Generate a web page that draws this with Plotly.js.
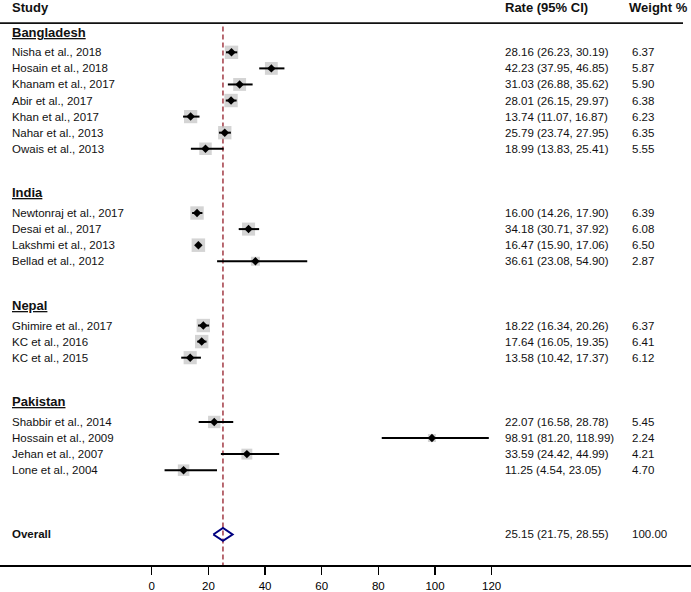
<!DOCTYPE html>
<html>
<head>
<meta charset="utf-8">
<script src="https://cdn.plot.ly/plotly-3.0.1.min.js"></script>
<style>html,body{margin:0;padding:0;background:#fff;}#chart{width:691px;height:592px;}</style>
</head>
<body>
<div id="chart"></div>
<script>
// ---- data ----
const groups = ['Bangladesh', 'India', 'Nepal', 'Pakistan'];
const studies = ['Nisha et al., 2018','Hosain et al., 2018','Khanam et al., 2017','Abir et al., 2017','Khan et al., 2017','Nahar et al., 2013','Owais et al., 2013',
  'Newtonraj et al., 2017','Desai et al., 2017','Lakshmi et al., 2013','Bellad et al., 2012',
  'Ghimire et al., 2017','KC et al., 2016','KC et al., 2015',
  'Shabbir et al., 2014','Hossain et al., 2009','Jehan et al., 2007','Lone et al., 2004'];
const studyGroup = ['Bangladesh','Bangladesh','Bangladesh','Bangladesh','Bangladesh','Bangladesh','Bangladesh',
  'India','India','India','India','Nepal','Nepal','Nepal','Pakistan','Pakistan','Pakistan','Pakistan'];
const rate = [28.16,42.23,31.03,28.01,13.74,25.79,18.99, 16.00,34.18,16.47,36.61, 18.22,17.64,13.58, 22.07,98.91,33.59,11.25];
const ciLow = [26.23,37.95,26.88,26.15,11.07,23.74,13.83, 14.26,30.71,15.90,23.08, 16.34,16.05,10.42, 16.58,81.20,24.42,4.54];
const ciHigh = [30.19,46.85,35.62,29.97,16.87,27.95,25.41, 17.90,37.92,17.06,54.90, 20.26,19.35,17.37, 28.78,118.99,44.99,23.05];
const weight = [6.37,5.87,5.90,6.38,6.23,6.35,5.55, 6.39,6.08,6.50,2.87, 6.37,6.41,6.12, 5.45,2.24,4.21,4.70];
const overallLabel = 'Overall';
const overallRate = 25.15, overallLow = 21.75, overallHigh = 28.55, overallWeight = 100.00;
const xTicks = [0, 20, 40, 60, 80, 100, 120];
const headers = ['Study', 'Rate (95% CI)', 'Weight %'];

// ---- layout of rows ----
const FONT = 'Liberation Sans, Arial, Helvetica, sans-serif';
const rows = [];
const groupRows = [];
let r = 0;
groups.forEach((g, gi) => {
  if (gi > 0) r += 3;
  groupRows.push(r - 1.25);
  studyGroup.forEach((sg, i) => { if (sg === g) { rows[i] = r; r += 1; } });
});
const overallRow = r - 1 + 4;

const fmt = v => v.toFixed(2);
const ann = [];
const xStudy = 10/691, xRate = 503/691, xWeight = 630/691, xWeightHead = 627/691;
const headerRow = -2.8;
ann.push({x: xStudy, y: headerRow, text: '<b>' + headers[0] + '</b>', font: {size: 13}});
ann.push({x: xRate, y: headerRow, text: '<b>' + headers[1] + '</b>', font: {size: 13}});
ann.push({x: xWeightHead, y: headerRow, text: '<b>' + headers[2] + '</b>', font: {size: 13}});
groups.forEach((g, gi) => ann.push({x: xStudy, y: groupRows[gi], text: '<b><u>' + g + '</u></b>', font: {size: 13}}));
studies.forEach((s, i) => {
  ann.push({x: xStudy, y: rows[i], text: s});
  ann.push({x: xRate, y: rows[i], text: fmt(rate[i]) + ' (' + fmt(ciLow[i]) + ', ' + fmt(ciHigh[i]) + ')'});
  ann.push({x: xWeight, y: rows[i], text: fmt(weight[i])});
});
ann.push({x: xStudy, y: overallRow, text: '<b>' + overallLabel + '</b>'});
ann.push({x: xRate, y: overallRow, text: fmt(overallRate) + ' (' + fmt(overallLow) + ', ' + fmt(overallHigh) + ')'});
ann.push({x: xWeight, y: overallRow, text: fmt(overallWeight)});
const annotations = ann.map(a => Object.assign({xref: 'paper', yref: 'y', xanchor: 'left', yanchor: 'middle', showarrow: false}, a,
  {font: Object.assign({family: FONT, size: 11.5, color: '#111'}, a.font || {})}));

// ---- traces ----
const squares = {
  type: 'scatter', mode: 'markers', x: rate, y: rows,
  marker: {symbol: 'square', size: weight.map(w => 5.3 * Math.sqrt(w)), color: '#c2c2c2', line: {width: 0}},
  hoverinfo: 'skip'
};
const ciX = [], ciY = [];
studies.forEach((s, i) => { ciX.push(ciLow[i], ciHigh[i], null); ciY.push(rows[i], rows[i], null); });
const ciLines = {type: 'scatter', mode: 'lines', x: ciX, y: ciY, line: {color: '#000', width: 2}, hoverinfo: 'skip'};
const points = {type: 'scatter', mode: 'markers', x: rate, y: rows,
  marker: {symbol: 'diamond', size: 6.5, color: '#000'}, hoverinfo: 'skip'};
const dh = 0.4;
const overallDiamond = {type: 'scatter', mode: 'lines',
  x: [overallLow, overallRate, overallHigh, overallRate, overallLow],
  y: [overallRow, overallRow - dh, overallRow, overallRow + dh, overallRow],
  line: {color: '#000080', width: 2}, hoverinfo: 'skip'};

const layout = {
  width: 691, height: 592,
  margin: {l: 0, r: 0, t: 0, b: 27},
  paper_bgcolor: '#fff', plot_bgcolor: '#fff',
  showlegend: false,
  font: {family: FONT, color: '#000'},
  xaxis: {range: [-53.55, 190.36], tickvals: xTicks, ticktext: xTicks.map(String), ticks: 'outside', ticklen: 8, tickwidth: 1.5, tickcolor: '#000',
    ticklabelstandoff: 2,
    showline: true, linecolor: '#000', linewidth: 1.5, showgrid: false, zeroline: false,
    tickfont: {family: FONT, size: 11.5, color: '#000'}, fixedrange: true},
  yaxis: {range: [31.9, -3.255], visible: false, showgrid: false, zeroline: false, fixedrange: true},
  annotations: annotations,
  shapes: [
    {type: 'line', xref: 'paper', yref: 'y', x0: 0, x1: 683/691, y0: -1.82, y1: -1.82, line: {color: '#111', width: 1.8}},
    {type: 'line', xref: 'x', yref: 'y', x0: overallRate, x1: overallRate, y0: -1.6, y1: 31.9, line: {color: '#a33a45', width: 1.5, dash: '5px,3px'}, layer: 'below'}
  ]
};

Plotly.newPlot('chart', [squares, ciLines, points, overallDiamond], layout, {staticPlot: true, displayModeBar: false});
</script>
</body>
</html>
